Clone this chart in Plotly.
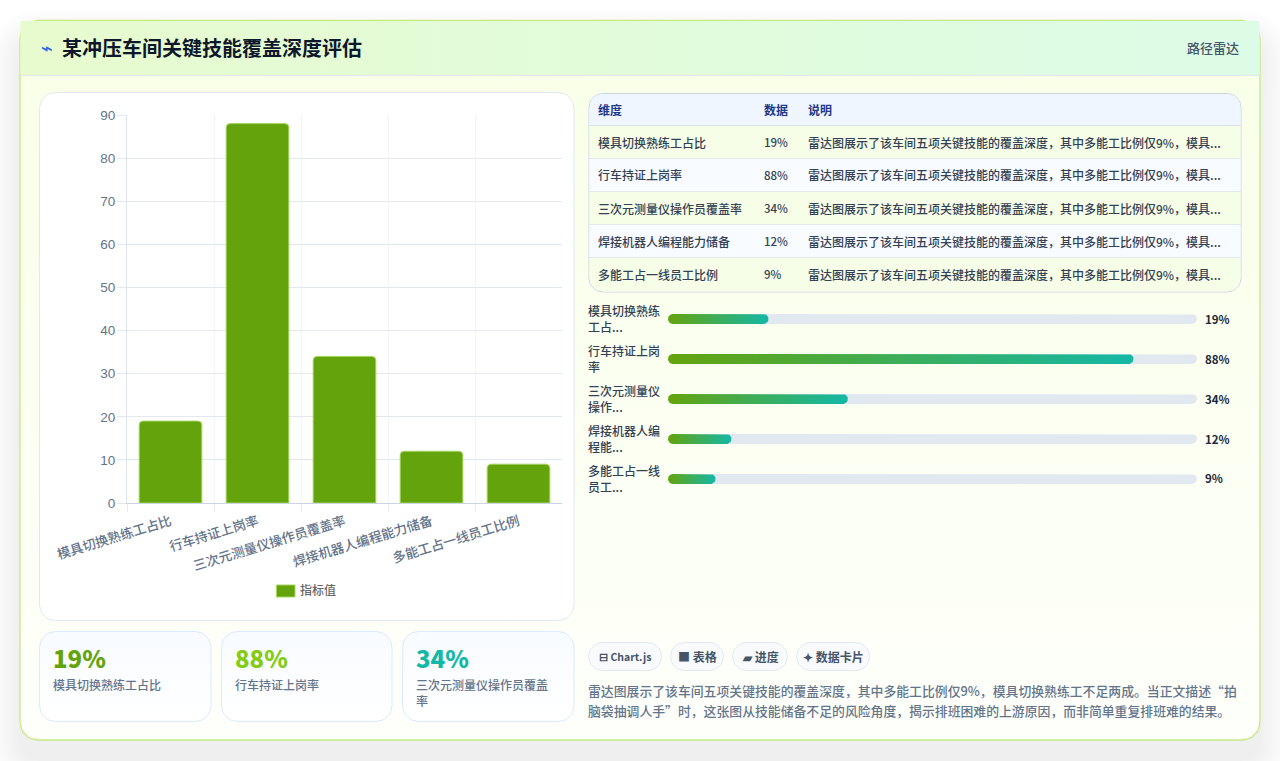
import math
import plotly.graph_objects as go

W, H = 1280, 761
FONT = "Noto Sans CJK SC, Noto Sans, sans-serif"

# chart data
categories = ["模具切换熟练工占比", "行车持证上岗率", "三次元测量仪操作员覆盖率", "焊接机器人编程能力储备", "多能工占一线员工比例"]
values = [19, 88, 34, 12, 9]
y_ticks = [0, 10, 20, 30, 40, 50, 60, 70, 80, 90]
series_name = "指标值"

# page text
title = "某冲压车间关键技能覆盖深度评估"
title_icon = "⌁"
badge = "路径雷达"
table_headers = ["维度", "数据", "说明"]
table_note = "雷达图展示了该车间五项关键技能的覆盖深度，其中多能工比例仅9%，模具..."
progress_labels = ["模具切换熟练<br>工占...", "行车持证上岗<br>率", "三次元测量仪<br>操作...", "焊接机器人编<br>程能...", "多能工占一线<br>员工..."]
kpi_labels = ["模具切换熟练工占比", "行车持证上岗率", "三次元测量仪操作员覆盖<br>率"]
kpi_colors = ["#65a30d", "#84cc16", "#14b8a6"]
chips = ["⊟ Chart.js", "■ 表格", "▰ 进度", "✦ 数据卡片"]
chip_sizes = [10.5, 12, 12, 12]
summary = [
    "雷达图展示了该车间五项关键技能的覆盖深度，其中多能工比例仅9%，模具切换熟练工不足两成。当正文描述“拍",
    "脑袋抽调人手”时，这张图从技能储备不足的风险角度，揭示排班困难的上游原因，而非简单重复排班难的结果。",
]


def rounded(x0, y0, x1, y1, r, sx=1.0, sy=1.0):
    """Outline of a rectangle with per-corner radii (tl, tr, br, bl)."""
    if not isinstance(r, (tuple, list)):
        r = (r, r, r, r)
    corners = [
        (x0 + r[0] * sx, y0 + r[0] * sy, r[0], 180),
        (x1 - r[1] * sx, y0 + r[1] * sy, r[1], 270),
        (x1 - r[2] * sx, y1 - r[2] * sy, r[2], 0),
        (x0 + r[3] * sx, y1 - r[3] * sy, r[3], 90),
    ]
    xs, ys = [], []
    for cx, cy, rad, start in corners:
        for i in range(9):
            a = math.radians(start + i * 90 / 8)
            xs.append(cx + rad * sx * math.cos(a))
            ys.append(cy + rad * sy * math.sin(a))
    xs.append(xs[0])
    ys.append(ys[0])
    return xs, ys


fig = go.Figure()


def panel(x0, y0, x1, y1, r, fill=None, line=None, lw=1, gradient=None):
    xs, ys = rounded(x0, y0, x1, y1, r)
    kw = dict(fillgradient=gradient) if gradient else dict(fillcolor=fill)
    fig.add_trace(go.Scatter(
        x=xs, y=ys, xaxis="x", yaxis="y", mode="lines", fill="toself",
        line=dict(color=line or "rgba(0,0,0,0)", width=lw if line else 0),
        hoverinfo="skip", showlegend=False, **kw))


def hgrad(c0, c1):
    return dict(type="horizontal", colorscale=[[0, c0], [1, c1]])


def vgrad(top, bottom):
    # the page axis runs downward, so the colour scale is given bottom first
    return dict(type="vertical", colorscale=[[0, bottom], [1, top]])


annotations = []


def label(x, y, text, size, color, weight=400, anchor="left", family=FONT):
    dx = -1 if anchor == "left" else (1 if anchor == "right" else 0)
    annotations.append(dict(
        x=(x + dx) / W, y=1 - (y - 1) / H, xref="paper", yref="paper", text=text, showarrow=False,
        xanchor=anchor, yanchor="middle", align="left", borderpad=0,
        font=dict(family=family, size=size, color=color, weight=weight)))


# soft drop shadow under the card
for i in range(16):
    s = 1 + i * 2
    panel(20 - s, 40 - s, 1260 + s, 760 + s, 18 + s, fill="rgba(15,23,42,0.0042)")

# main card with header band
panel(20, 20.5, 1260, 740, 18, gradient=vgrad("#f8ffe6", "#fefffb"), line="#c6ea80", lw=1.3)
panel(20.5, 21, 1259.5, 75, 0, gradient=hgrad("#e7fbce", "#dcfce7"))
fig.add_trace(go.Scatter(x=[20.5, 1259.5], y=[75.5, 75.5], xaxis="x", yaxis="y", mode="lines",
                         line=dict(color="#e2e8f0", width=1), hoverinfo="skip", showlegend=False))
label(41, 49, title_icon, 20, "#2563eb", 400, family="DejaVu Sans")
label(62, 49, title, 20, "#0f172a", 700)
label(1239, 48, badge, 13, "#475569", 500, anchor="right")

# chart card
panel(39.5, 92.5, 574, 620.5, 16, fill="#ffffff", line="#e2e8f0")

# table
TX0, TX1 = 589, 1241
row_tops = [126, 159, 192, 225, 258]
row_fill = ["#f7fee7", "#f8fbff", "#f7fee7", "#f8fbff", "#f7fee7"]
panel(TX0, 93.5, TX1, 292, 14, fill="#ffffff", line="#cbd5e1")
panel(TX0 + .5, 94, TX1 - .5, 126, (14, 14, 0, 0), fill="#eff6ff")
for i, top in enumerate(row_tops):
    corners = (0, 0, 14, 14) if i == 4 else 0
    bottom = 291.5 if i == 4 else top + 33
    panel(TX0 + .5, top, TX1 - .5, bottom, corners, fill=row_fill[i])
for top in [125.5, 158.5, 191.5, 224.5, 257.5]:
    fig.add_trace(go.Scatter(x=[TX0, TX1], y=[top, top], xaxis="x", yaxis="y", mode="lines",
                             line=dict(color="#dbe3ee" if top == 125.5 else "#e2e8f0", width=1),
                             hoverinfo="skip", showlegend=False))
for x, text in zip([598, 764, 808], table_headers):
    label(x, 110, text, 12, "#1e3a8a", 700)
for i, (cat, v) in enumerate(zip(categories, values)):
    y = 143 + 33 * i
    label(598, y, cat, 12, "#334155", 500)
    label(764, y, f"{v}%", 11.5, "#334155", 500)
    label(808, y, table_note, 12, "#334155", 500)

# KPI cards
for (x0, x1), v, name, color in zip([(39.5, 211), (221.5, 392), (402.5, 574)], values, kpi_labels, kpi_colors):
    panel(x0, 631.5, x1, 721.5, 16, gradient=vgrad("#f8fbff", "#ffffff"), line="#dbeafe")
    label(x0 + 13.5, 658, f"{v}%", 24, color, 800)
    label(x0 + 13.5, 693 if "<br>" in name else 685, name, 12, "#64748b", 500)

# chips under the progress list
chip_spans = [(588.5, 661.5), (670.5, 723.5), (732.5, 787.5), (796.5, 869.5)]
for (x0, x1), text, size in zip(chip_spans, chips, chip_sizes):
    panel(x0, 642.5, x1, 670.5, 14, fill="#f8fafc", line="#e2e8f0")
    label((x0 + x1) / 2, 657, text, size, "#475569", 700, anchor="center")

for i, line in enumerate(summary):
    label(588, 691.5 + 20 * i, line, 12.85, "#64748b", 500)

# bars
fig.add_trace(go.Bar(
    x=categories, y=values, xaxis="x2", yaxis="y2", name=series_name, width=0.72,
    marker=dict(color="#65a30d", line=dict(color="#a3d65c", width=1), cornerradius=4),
    showlegend=False))

# legend swatch and name
fig.add_shape(type="rect", xref="paper", yref="paper", x0=276.5 / W, x1=295 / W,
              y0=1 - 597 / H, y1=1 - 585 / H, fillcolor="#65a30d", line=dict(color="#a3d65c", width=1))
label(300, 590.5, series_name, 12, "#666666", 500)

# progress rows: x axis runs 0..100 %, y axis one unit per row
px_x = (1197 - 668) / 100
px_y = 40
for i in range(len(values)):
    tx, ty = rounded(0, i - 0.125, 100, i + 0.125, 5, 1 / px_x, 1 / px_y)
    fig.add_trace(go.Scatter(x=tx, y=ty, xaxis="x3", yaxis="y3", mode="lines", fill="toself",
                             fillcolor="#e2e8f0", line=dict(width=0, color="rgba(0,0,0,0)"),
                             hoverinfo="skip", showlegend=False))
for i, v in enumerate(values):
    bx, by = rounded(0, i - 0.125, v, i + 0.125, 5, 1 / px_x, 1 / px_y)
    fig.add_trace(go.Scatter(x=bx, y=by, xaxis="x3", yaxis="y3", mode="lines", fill="toself",
                             fillgradient=hgrad("#65a30d", "#14b8a6"),
                             line=dict(width=0, color="rgba(0,0,0,0)"),
                             hoverinfo="skip", showlegend=False))
    y = 319 + 40 * i
    label(588, y, progress_labels[i], 12, "#334155", 500)
    label(1205, y + 0.5, f"{v}%", 11.5, "#1e293b", 700)

hidden = dict(visible=False, fixedrange=True)
fig.update_layout(
    width=W, height=H, margin=dict(l=0, r=0, t=0, b=0), autosize=False,
    paper_bgcolor="#ffffff", plot_bgcolor="rgba(0,0,0,0)", showlegend=False,
    font=dict(family=FONT),
    xaxis=dict(domain=[0, 1], range=[0, W], **hidden),
    yaxis=dict(domain=[0, 1], range=[H, 0], **hidden),
    xaxis2=dict(
        domain=[127 / W, 562 / W], range=[-0.5, 4.4999], anchor="y2", type="category",
        categoryorder="array", categoryarray=categories,
        tickson="boundaries", ticks="outside", ticklen=8, tickcolor="#e8ecf2",
        showgrid=True, gridcolor="#f1f5f9", gridwidth=1,
        showline=True, linecolor="#cbd5e1", linewidth=1, tickangle=-17, automargin=False,
        ticklabelstandoff=5,
        tickfont=dict(family=FONT, size=13.2, color="#64748b", weight=500), fixedrange=True),
    yaxis2=dict(
        domain=[1 - 503 / H, 1 - 115 / H], range=[0, 90], anchor="x2", tickvals=y_ticks,
        ticks="outside", ticklen=9, tickcolor="#e2e8f0", showgrid=True, gridcolor="#e2e8f0",
        showline=True, linecolor="#dde3ec", linewidth=1, zeroline=False, automargin=False,
        ticklabelstandoff=-1,
        tickfont=dict(family="Liberation Sans, Arial, sans-serif", size=13.5, color="#64748b"),
        fixedrange=True),
    xaxis3=dict(domain=[668 / W, 1197 / W], range=[0, 100], anchor="y3", **hidden),
    yaxis3=dict(domain=[1 - 499 / H, 1 - 299 / H], range=[4.5, -0.5], anchor="x3", **hidden),
    annotations=annotations,
)

fig.write_html("out.html", config=dict(displayModeBar=False))
